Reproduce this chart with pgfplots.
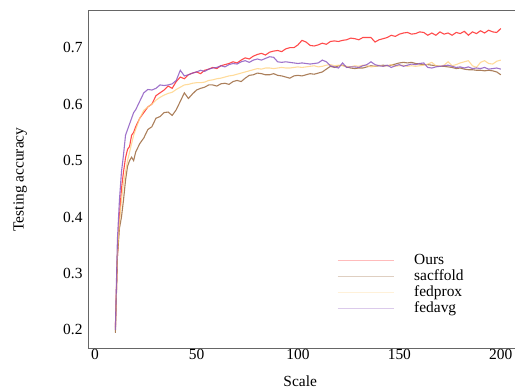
\documentclass[border=0pt]{standalone}
\usepackage{pgfplots}
\pgfplotsset{compat=1.18}
\usepackage{pgfplotstable}
\usepackage{fontspec}
\setmainfont{Liberation Serif}
\definecolor{cOurs}{RGB}{255,30,30}
\definecolor{cSac}{RGB}{150,95,50}
\definecolor{cProx}{RGB}{255,210,130}
\definecolor{cAvg}{RGB}{135,80,190}

\pgfplotstableread{
x ours avg sac prox
10 0.205 0.200 0.195 0.200
11 0.330 0.360 0.330 0.340
12 0.400 0.430 0.380 0.390
13 0.450 0.480 0.400 0.430
14 0.480 0.510 0.430 0.460
15 0.505 0.545 0.465 0.480
16 0.520 0.555 0.490 0.500
17 0.525 0.565 0.500 0.515
18 0.545 0.575 0.506 0.530
19 0.550 0.585 0.500 0.545
20 0.560 0.590 0.515 0.555
22 0.575 0.605 0.530 0.575
24 0.585 0.620 0.540 0.589
26 0.595 0.626 0.555 0.595
28 0.600 0.625 0.560 0.600
30 0.615 0.628 0.575 0.607
32 0.620 0.634 0.578 0.612
34 0.625 0.633 0.585 0.616
36 0.632 0.634 0.586 0.619
38 0.628 0.636 0.580 0.621
40 0.640 0.642 0.590 0.626
42 0.648 0.660 0.605 0.630
44 0.645 0.650 0.620 0.634
46 0.652 0.652 0.610 0.635
48 0.655 0.655 0.618 0.637
50 0.657 0.657 0.625 0.638
52 0.654 0.660 0.628 0.638
54 0.660 0.658 0.630 0.639
56 0.662 0.662 0.634 0.642
58 0.665 0.664 0.634 0.643
60 0.663 0.665 0.632 0.645
62 0.668 0.668 0.636 0.646
64 0.670 0.666 0.637 0.648
66 0.672 0.670 0.635 0.650
68 0.675 0.672 0.640 0.651
70 0.673 0.671 0.642 0.653
72 0.678 0.675 0.640 0.655
74 0.682 0.677 0.646 0.657
76 0.680 0.674 0.651 0.659
78 0.685 0.678 0.652 0.661
80 0.688 0.680 0.655 0.663
82 0.690 0.678 0.654 0.662
84 0.687 0.681 0.652 0.664
86 0.692 0.684 0.652 0.664
88 0.694 0.683 0.654 0.663
90 0.695 0.675 0.651 0.664
92 0.693 0.674 0.650 0.665
94 0.698 0.675 0.648 0.664
96 0.700 0.674 0.646 0.664
98 0.700 0.673 0.650 0.665
100 0.705 0.672 0.651 0.666
102 0.713 0.673 0.650 0.665
104 0.710 0.672 0.652 0.666
106 0.704 0.671 0.654 0.667
108 0.703 0.672 0.653 0.668
110 0.705 0.673 0.655 0.666
112 0.708 0.678 0.657 0.667
114 0.706 0.675 0.662 0.669
116 0.711 0.668 0.667 0.670
118 0.712 0.666 0.665 0.668
120 0.711 0.664 0.668 0.669
122 0.713 0.673 0.669 0.668
124 0.714 0.665 0.666 0.667
126 0.717 0.666 0.664 0.666
128 0.716 0.666 0.663 0.668
130 0.714 0.665 0.664 0.667
132 0.718 0.668 0.664 0.669
134 0.718 0.670 0.666 0.668
136 0.718 0.675 0.668 0.666
138 0.710 0.670 0.667 0.667
140 0.714 0.668 0.668 0.669
142 0.716 0.667 0.669 0.667
144 0.718 0.669 0.668 0.668
146 0.722 0.665 0.669 0.670
148 0.720 0.668 0.671 0.667
150 0.724 0.670 0.673 0.668
152 0.726 0.667 0.674 0.669
154 0.727 0.669 0.673 0.667
156 0.724 0.671 0.674 0.668
158 0.725 0.670 0.672 0.667
160 0.728 0.672 0.671 0.668
162 0.727 0.673 0.670 0.669
164 0.722 0.665 0.670 0.671
166 0.726 0.664 0.669 0.674
168 0.722 0.666 0.668 0.668
170 0.728 0.667 0.667 0.667
172 0.724 0.668 0.667 0.669
174 0.726 0.669 0.666 0.675
176 0.722 0.667 0.665 0.668
178 0.727 0.665 0.663 0.670
180 0.725 0.666 0.664 0.673
182 0.729 0.664 0.662 0.675
184 0.722 0.666 0.661 0.677
186 0.728 0.663 0.661 0.668
188 0.725 0.664 0.660 0.665
190 0.730 0.663 0.660 0.674
192 0.726 0.665 0.659 0.677
194 0.731 0.662 0.660 0.672
196 0.728 0.663 0.659 0.671
198 0.727 0.664 0.657 0.676
200 0.734 0.662 0.652 0.678
}\datatable

\begin{document}
\begin{tikzpicture}
\begin{axis}[
  name=ax,
  scale only axis,
  width=427bp, height=337bp,
  xmin=-3.5, xmax=207, ymin=0.168, ymax=0.765,
  axis y line*=left,
  axis line style={draw=black!60, line width=1pt},
  xtick={0,50,100,150,200},
  ytick={0.2,0.3,0.4,0.5,0.6,0.7},
  major tick length=0pt,
  /pgf/number format/assume math mode=true,
  yticklabel style={/pgf/number format/fixed,/pgf/number format/precision=1,/pgf/number format/fixed zerofill, xshift=-2bp},
  xticklabel style={yshift=2bp},
  tick label style={font=\fontsize{15.5}{18}\selectfont},
  label style={font=\fontsize{15.5}{18}\selectfont},
  xlabel={Scale}, ylabel={Testing accuracy},
  xlabel style={at={(axis description cs:0.497,-0.098)}, anchor=center},
  ylabel style={at={(axis description cs:-0.159,0.5)}, anchor=center},
  legend style={at={(0.583,0.285)}, anchor=north west, draw=none, fill=none, inner sep=0pt,
    font=\fontsize{15.5}{16}\selectfont, row sep=0pt,
    nodes={text height=11bp, text depth=3bp, inner ysep=1bp}},
  legend cell align=left,
  every axis plot/.append style={line width=1.1pt, opacity=0.8},
  legend image code/.code={\draw[#1, opacity=0.3, line width=1pt] (0bp,0bp) -- (56bp,0bp); \path (74bp,0bp);},
]
\addplot[cOurs] table[x=x,y=ours]{\datatable};
\addlegendentry{Ours}
\addplot[cSac] table[x=x,y=sac]{\datatable};
\addlegendentry{sacffold}
\addplot[cProx] table[x=x,y=prox]{\datatable};
\addlegendentry{fedprox}
\addplot[cAvg] table[x=x,y=avg]{\datatable};
\addlegendentry{fedavg}
\end{axis}
\pgfresetboundingbox
\path[use as bounding box] (ax.south west) ++(-88bp,-44bp) rectangle ++(515bp,392bp);
\end{tikzpicture}
\end{document}
